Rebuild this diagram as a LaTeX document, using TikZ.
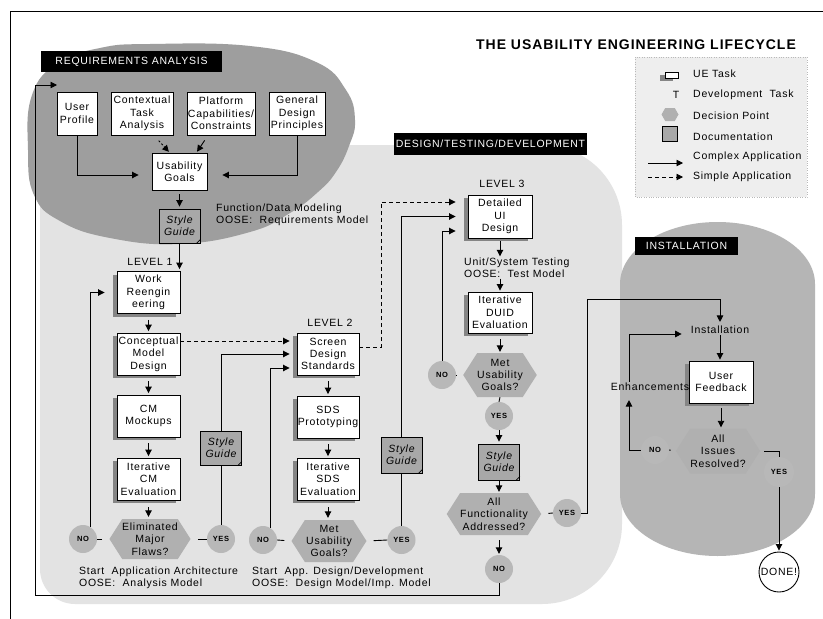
\documentclass[tikz,border=0pt]{standalone}
\usepackage{fontspec}
\setmainfont{Liberation Sans}[LetterSpace=7]
\usetikzlibrary{arrows.meta,shapes.symbols,shadows}

\definecolor{reqgray}{gray}{0.62}
\definecolor{instgray}{gray}{0.71}
\definecolor{designgray}{gray}{0.89}
\definecolor{legendgray}{gray}{0.935}
\definecolor{hexgray}{gray}{0.69}
\definecolor{circgray}{gray}{0.72}
\definecolor{docgray}{gray}{0.66}
\definecolor{shadowgray}{gray}{0.52}

\newcommand{\nodefont}{\fontsize{10.5}{12.3}\selectfont}

\tikzset{
  lw/.style={line width=0.9pt},
  task/.style={draw, lw, fill=white, minimum width=63pt, minimum height=42pt,
    inner sep=0pt, align=center, font=\nodefont},
  shadowed/.style={drop shadow={shadow xshift=-4pt, shadow yshift=-3pt,
    fill=shadowgray, opacity=1}},
  doc/.style={draw, lw, fill=docgray, minimum width=41pt, minimum height=35pt,
    inner sep=0pt, align=center, font=\nodefont\itshape},
  decision/.style={shape=signal, signal to=east and west, signal pointer angle=115,
    fill=hexgray, minimum width=76pt, minimum height=40pt, inner sep=0pt,
    align=center, font=\nodefont},
  answer/.style={circle, fill=circgray, minimum size=28pt, inner sep=0pt,
    font=\fontsize{7.5}{8}\selectfont\bfseries},
  note/.style={font=\nodefont, inner sep=1pt, align=left},
  banner/.style={fill=black, text=white, inner sep=0pt, font=\nodefont},
  arr/.style={lw, -{Triangle[length=6.5pt,width=6.5pt]}},
  link/.style={lw},
  simple/.style={arr, dash pattern=on 4pt off 3pt},
}

\begin{document}
\begin{tikzpicture}[x=1pt,y=-1pt]
\useasboundingbox (0,0) rectangle (823,619);
\fill[white] (0,0) rectangle (823,619);

% frame
\draw[lw] (823,11) -- (10,11) -- (10,619);

% design / testing / development area
\fill[designgray] (40,145) -- (542,145) arc[start angle=-90,end angle=0,radius=80]
  -- (622,524) arc[start angle=0,end angle=90,radius=80]
  -- (75,604) arc[start angle=90,end angle=180,radius=35] -- cycle;

% installation area
\fill[instgray] (717.5,222) arc[start angle=-90,end angle=0,x radius=97.5,y radius=62]
  -- (815,494) arc[start angle=0,end angle=90,x radius=97.5,y radius=62]
  arc[start angle=90,end angle=180,x radius=97.5,y radius=62]
  -- (620,284) arc[start angle=180,end angle=270,x radius=97.5,y radius=62] -- cycle;

% requirements area
\fill[reqgray] plot[smooth cycle, tension=0.75] coordinates {
  (150,44) (250,46) (316,62) (346,90) (355,120) (349,146) (336,172) (318,192)
  (290,213) (250,232) (180,244) (110,238) (60,221) (34,195) (28,150) (32,95)
  (58,63) (100,48)};

% legend
\filldraw[fill=legendgray, draw=gray!55, dotted] (635,57) rectangle (807,197);

% title and banners
\node[font=\fontsize{14}{16}\selectfont\bfseries] (title) at (636,45)
  {THE USABILITY ENGINEERING LIFECYCLE};
\node[banner, minimum width=181pt, minimum height=21pt] (ra) at (131.5,61.5)
  {REQUIREMENTS ANALYSIS};
\node[banner, minimum width=193pt, minimum height=22pt] (dtd) at (490.5,144)
  {DESIGN/TESTING/DEVELOPMENT};
\node[banner, minimum width=103pt, minimum height=18pt] (ins) at (686.5,246)
  {INSTALLATION};

% legend entries
\node[draw, lw, fill=white, minimum width=13pt, minimum height=6pt, inner sep=0pt,
  drop shadow={shadow xshift=-5pt, shadow yshift=-3pt, fill=shadowgray, opacity=1}]
  (ic1) at (671.5,75) {};
\node[note] (ic2) at (676,95) {T};
\node[decision, minimum width=17pt, minimum height=13pt, signal pointer angle=120]
  (ic3) at (670,114.5) {};
\node[draw, lw, fill=docgray, minimum size=15pt, inner sep=0pt] (ic4) at (670,134) {};
\coordinate (a1s) at (648,163); \coordinate (a1e) at (683,163);
\coordinate (a2s) at (648,177); \coordinate (a2e) at (683,177);
\draw[arr] (a1s) -- (a1e);
\draw[simple] (a2s) -- (a2e);
\node[note, anchor=west] (lg1) at (692,74) {UE Task};
\node[note, anchor=west] (lg2) at (692,95) {Development\ \ Task};
\node[note, anchor=west] (lg3) at (692,116) {Decision Point};
\node[note, anchor=west] (lg4) at (692,137) {Documentation};
\node[note, anchor=west] (lg5) at (692,157) {Complex Application};
\node[note, anchor=west] (lg6) at (692,177) {Simple Application};

% requirements analysis
\node[task, minimum width=40pt, minimum height=43pt] (up) at (77,113.5) {User\\Profile};
\node[task, minimum width=62pt, minimum height=43pt] (cta) at (142,113.5) {Contextual\\Task\\Analysis};
\node[task, minimum width=68pt, minimum height=43pt] (pcc) at (221,113.5) {Platform\\Capabilities/\\Constraints};
\node[task, minimum width=56pt, minimum height=43pt] (gdp) at (297,113.5) {General\\Design\\Principles};
\node[task, minimum width=55pt, minimum height=37pt] (ug) at (179.5,171.5) {Usability\\Goals};
\node[doc, minimum height=34pt] (sg0) at (179.5,226) {Style\\Guide};
\node[note, anchor=west] (fdm) at (215,214.5) {Function/Data Modeling\\OOSE:\ \ Requirements Model};

\draw[arr, shorten >=13pt] (up.south) |- ([yshift=-3.5pt]ug.west);
\draw[arr, shorten >=15pt] (gdp.south) |- ([yshift=-3.5pt]ug.east);
\draw[lw, dash pattern=on 2pt off 2pt, -{Triangle[length=6.5pt,width=6.5pt]}, shorten <=7pt, shorten >=1pt]
  ([xshift=12pt]cta.south) -- ([xshift=-10pt]ug.north);
\draw[arr, shorten <=6pt, shorten >=1pt] ([xshift=-13pt]pcc.south) -- ([xshift=17pt]ug.north);
\draw[arr, shorten <=4pt, shorten >=2pt] (ug.south) -- (sg0.north);

% level 1
\node[note] (l1) at (150,262) {LEVEL 1};
\node[task, shadowed] (wr) at (148.5,292.5) {Work\\Reengin\\eering};
\node[task, shadowed] (cmd) at (148.5,354) {Conceptual\\Model\\Design};
\node[task, shadowed] (cmm) at (148.5,416) {CM\\Mockups};
\node[task, shadowed] (icme) at (148.5,479) {Iterative\\CM\\Evaluation};
\node[decision] (d1) at (150,539) {Eliminated\\Major\\Flaws?};
\node[answer] (no1) at (83,539) {NO};
\node[answer] (yes1) at (221,539) {YES};
\node[doc, minimum height=34pt] (sg1) at (221,448) {Style\\Guide};
\node[note, anchor=west] (saa) at (78,577.5) {Start\ \ Application Architecture\\OOSE:\ \ Analysis Model};

\draw[arr, shorten >=2pt] (sg0.south) -- (sg0.south |- wr.north);
\draw[arr, shorten <=6pt, shorten >=1.5pt] (wr) -- (cmd);
\draw[arr, shorten <=6pt, shorten >=1.5pt] (cmd) -- (cmm);
\draw[arr, shorten <=6pt, shorten >=1.5pt] (cmm) -- (icme);
\draw[arr, shorten <=7pt, shorten >=2pt] (icme.south) -- (icme.south |- d1.north);
\draw[link, shorten <=7pt] (d1.west) -- (no1.east);
\draw[link, shorten <=7pt] (d1.east) -- (yes1.west);
\draw[arr, shorten >=12pt] (no1.60) |- (wr.west);
\draw[link] (yes1.north) -- (sg1.south);

% level 2
\node[note] (l2) at (330,323) {LEVEL 2};
\node[task, shadowed, minimum width=62pt] (scs) at (328,354) {Screen\\Design\\Standards};
\node[task, shadowed, minimum width=62pt] (sdsp) at (328,417) {SDS\\Prototyping};
\node[task, shadowed, minimum width=62pt] (isds) at (328,479) {Iterative\\SDS\\Evaluation};
\node[decision, minimum width=75pt, minimum height=42pt] (d2) at (329,541) {Met\\Usability\\Goals?};
\node[answer] (no2) at (263,540) {NO};
\node[answer] (yes2) at (401.5,540) {YES};
\node[doc, minimum height=36pt] (sg2) at (401.5,455) {Style\\Guide};
\node[note, anchor=west] (sad) at (251,578) {Start\ \ App. Design/Development\\OOSE:\ \ Design Model/Imp. Model};

\draw[simple, shorten >=7pt] ([yshift=13pt]cmd.east) -- ([yshift=13pt]scs.west);
\draw[arr, shorten >=7pt] (sg1.north) |- (scs.west);
\draw[arr, shorten >=7pt] (no2.60) |- ([yshift=-14pt]scs.west);
\draw[arr, shorten <=6pt, shorten >=1.5pt] (scs) -- (sdsp);
\draw[arr, shorten <=6pt, shorten >=1.5pt] (sdsp) -- (isds);
\draw[arr, shorten <=7pt, shorten >=2pt] (isds.south) -- (isds.south |- d2.north);
\draw[link, shorten <=7pt] (d2.west) -- (no2.east);
\draw[link, shorten <=7pt] (d2.east) -- (yes2.west);
\draw[link] (yes2.north) -- (sg2.south);

% level 3
\node[note] (l3) at (502,184) {LEVEL 3};
\node[task, shadowed, minimum width=64pt, minimum height=43pt] (dui) at (500,216.5) {Detailed\\UI\\Design};
\node[note, anchor=west] (ut) at (463,267.5) {Unit/System Testing\\OOSE:\ \ Test Model};
\node[task, shadowed, minimum width=64pt, minimum height=41pt] (iduid) at (500,312.5) {Iterative\\DUID\\Evaluation};
\node[decision, minimum width=73pt, minimum height=44pt] (d3) at (500,375) {Met\\Usability\\Goals?};
\node[answer] (no3) at (442,375) {NO};
\node[answer] (yes3) at (499,416) {YES};
\node[doc, minimum height=36pt] (sg3) at (499,462) {Style\\Guide};
\node[decision, minimum width=88pt, minimum height=42pt] (d4) at (494,514) {All\\Functionality\\Addressed?};
\node[answer] (yes4) at (567,513) {YES};
\node[answer] (no4) at (499,569) {NO};

\draw[simple, shorten >=12pt] ([yshift=7pt]scs.east) -- ++(22,0) |- ([yshift=14.5pt]dui.west);
\draw[arr, shorten >=12pt] (sg2.north) |- (dui.west);
\draw[arr, shorten >=12pt] (no3.north) |- ([yshift=-14.5pt]dui.west);
\draw[arr, shorten <=3pt] (dui.south) -- (dui.south |- ut.north);
\draw[arr, shorten >=1pt] (dui.south |- ut.south) -- (iduid.north);
\draw[arr, shorten <=6pt, shorten >=1pt] (iduid.south) -- (iduid.south |- d3.north);
\draw[link, shorten <=7pt] (d3.west) -- (no3.east);
\draw[link] (d3.south) -- (yes3.north);
\draw[arr, shorten >=2pt] (yes3.south) -- (sg3.north);
\draw[arr, shorten >=1pt] (sg3.south) -- (sg3.south |- d4.north);
\draw[arr, shorten <=5pt, shorten >=1pt] (sg3.south |- d4.south) -- (no4.north);
\draw[link, shorten <=7pt] (d4.east) -- (yes4.west);

% installation
\node[note] (inst) at (720,330) {Installation};
\node[task, shadowed, minimum width=64pt] (uf) at (721,382) {User\\Feedback};
\node[note] (enh) at (650,387) {Enhancements};
\node[decision, minimum width=83pt, minimum height=45pt] (d5) at (718,451) {All\\Issues\\Resolved?};
\node[answer] (no5) at (655,450) {NO};
\node[answer, minimum size=30pt] (yes5) at (779,472) {YES};
\node[circle, draw, lw, fill=white, minimum size=40pt, inner sep=0pt, font=\nodefont] (done) at (779,572) {DONE!};

\coordinate (c299) at (587,299);
\draw[arr, shorten >=3pt] (yes4.east) -| (c299) -| (inst.north);
\draw[arr, shorten >=1pt] (inst.south) -- (inst.south |- uf.north);
\draw[arr, shorten >=8pt] ([xshift=-21pt]enh.north) |- ([yshift=-4pt]inst.west);
\draw[arr, shorten <=5pt, shorten >=1pt] (uf.south) -- (uf.south |- d5.north);
\draw[link, shorten <=5pt] (d5.west) -- (no5.east);
\draw[arr, shorten >=8pt] (no5.west) -| ([xshift=-21pt]enh.south);
\draw[link, shorten <=4pt] (d5.east) -| (yes5.north);
\draw[arr, shorten >=1pt] (yes5.south) -- (done.north);

% return path to requirements analysis
\coordinate (lb) at (35,595);
\coordinate (reqin) at (57,85);
\draw[arr] (no4.south) |- (lb) |- (reqin);

% folded corners of the documents
\foreach \d in {sg0,sg1,sg2,sg3} {
  \draw[line width=0.6pt] ([xshift=-4pt]\d.south east) -- ([yshift=4pt]\d.south east);
}
\end{tikzpicture}
\end{document}
